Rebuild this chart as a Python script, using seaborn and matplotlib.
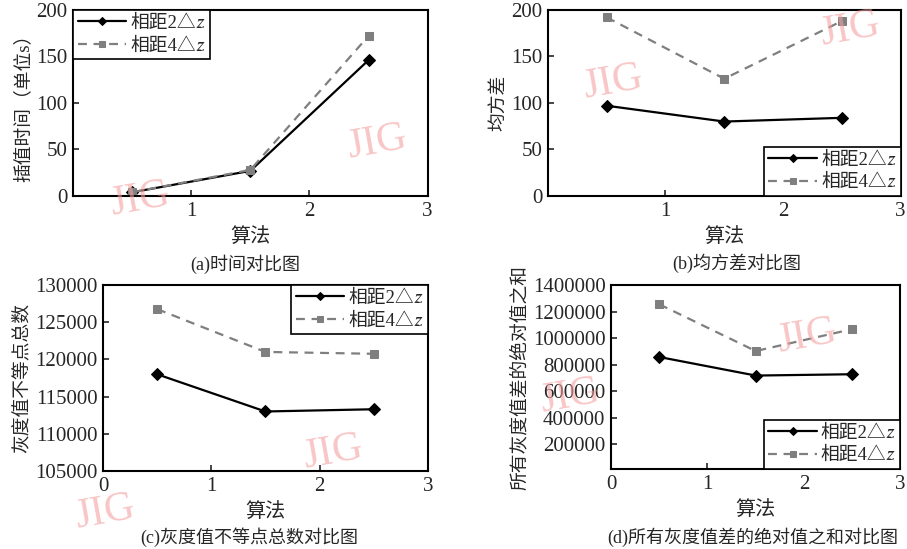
import numpy as np
import pandas as pd
import matplotlib
matplotlib.use("Agg")
import matplotlib.pyplot as plt
import matplotlib.ticker as mticker
import seaborn as sns

# data
algo_x = [0.5, 1.5, 2.5]

time_2dz = [4, 27, 146]
time_4dz = [4, 28, 172]

mse_2dz = [97, 80, 84]
mse_4dz = [192, 126, 188]

diffcount_2dz = [118000, 113000, 113300]
diffcount_4dz = [126750, 121000, 120750]

abssum_2dz = [857500, 717500, 727500]
abssum_4dz = [1255000, 902500, 1067500]

series_names = ["相距2△𝑧", "相距4△𝑧"]
ylabels = ["插值时间（单位s）", "均方差", "灰度值不等点总数", "所有灰度值差的绝对值之和"]
captions = ["(a)时间对比图", "(b)均方差对比图", "(c)灰度值不等点总数对比图", "(d)所有灰度值差的绝对值之和对比图"]

sns.set_style("ticks")
fams = ["Liberation Serif", "Noto Sans CJK SC", "STIXGeneral", "DejaVu Sans"]
plt.rcParams["font.family"] = fams
plt.rcParams["axes.linewidth"] = 1.5
plt.rcParams["xtick.direction"] = "in"
plt.rcParams["ytick.direction"] = "in"

fig = plt.figure(figsize=(9.07, 5.49), dpi=100)
axes = [
    fig.add_axes([0.0805, 0.643, 0.391, 0.339]),
    fig.add_axes([0.604, 0.643, 0.389, 0.339]),
    fig.add_axes([0.1136, 0.142, 0.358, 0.339]),
    fig.add_axes([0.6737, 0.1457, 0.319, 0.335]),
]

all_data = [(time_2dz, time_4dz), (mse_2dz, mse_4dz),
            (diffcount_2dz, diffcount_4dz), (abssum_2dz, abssum_4dz)]
ylims = [(0, 200), (0, 200), (105000, 130000), (12500, 1400000)]
yticks = [np.arange(0, 201, 50), np.arange(0, 201, 50),
          np.arange(105000, 130001, 5000), np.arange(200000, 1400001, 200000)]
xticks = [[1, 2, 3], [1, 2, 3], [0, 1, 2, 3], [0, 1, 2, 3]]
leg_loc = ["upper left", "lower right", "upper right", "lower right"]

for i, ax in enumerate(axes):
    s2, s4 = all_data[i]
    sns.lineplot(x=algo_x, y=s2, ax=ax, color="black", lw=1.6, marker="D",
                 markersize=6, markeredgecolor="black", label=series_names[0])
    sns.lineplot(x=algo_x, y=s4, ax=ax, color="#7f7f7f", lw=1.6, marker="s",
                 markersize=5.5, markeredgecolor="#7f7f7f", label=series_names[1])
    ax.lines[1].set_dashes((4, 3))
    ax.set_xlim(0, 3)
    ax.set_ylim(*ylims[i])
    ax.set_xticks(xticks[i])
    ax.set_yticks(yticks[i])
    ax.yaxis.set_major_formatter(mticker.FormatStrFormatter("%d"))
    ax.tick_params(labelsize=15, length=4, width=1.2, pad=4)
    ax.set_xlabel("算法", fontsize=14.5, labelpad=5)
    ax.set_ylabel(ylabels[i], fontsize=13.5, labelpad=3)
    for sp in ax.spines.values():
        sp.set_visible(True)
        sp.set_color("black")
    leg = ax.legend(loc=leg_loc[i], fontsize=13.5, frameon=True, fancybox=False,
                    framealpha=1, edgecolor="black", borderaxespad=0,
                    borderpad=0.25, labelspacing=0.3, handlelength=2.6,
                    handletextpad=0.2, markerscale=0.75)
    leg.get_frame().set_linewidth(1.2)

caption_pos = [(0.27, 0.519), (0.812, 0.521), (0.275, 0.022), (0.83, 0.022)]
for (cx, cy), txt in zip(caption_pos, captions):
    fig.text(cx, cy, txt, ha="center", va="center", fontsize=13)

# JIG watermarks
marks = [(140, 200), (377, 143), (613, 83), (850, 30),
         (105, 513), (333, 453), (570, 397), (807, 337)]
for mx, my in marks:
    fig.text(mx / 907, 1 - my / 549, "JIG", ha="center", va="center",
             fontsize=30, color="#f4a0a0", alpha=0.6, rotation=10,
             family="Liberation Serif")

fig.savefig("out.png", dpi=100)
